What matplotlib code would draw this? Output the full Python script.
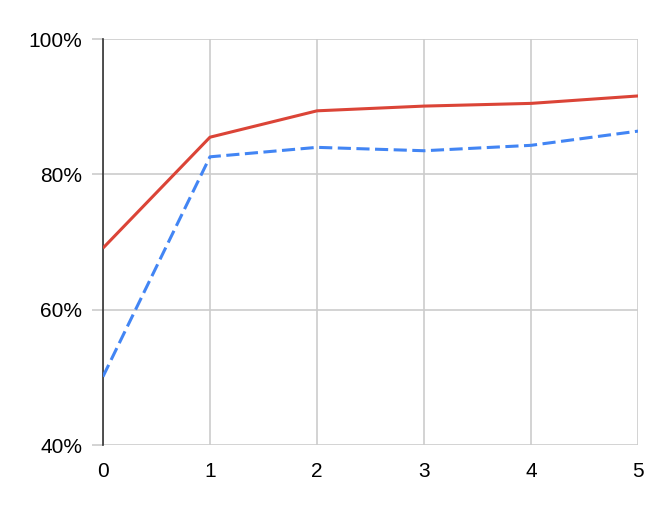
import matplotlib.pyplot as plt
from matplotlib.ticker import FuncFormatter

plt.rcParams['font.family'] = ['Liberation Sans', 'DejaVu Sans']

# data
steps = [0, 1, 2, 3, 4, 5]
red_series = [69.1, 85.5, 89.4, 90.1, 90.5, 91.6]
blue_series = [50.1, 82.6, 84.0, 83.5, 84.3, 86.4]
y_ticks = [40, 60, 80, 100]

fig = plt.figure(figsize=(6.64, 5.08), dpi=100)
ax = fig.add_axes([0.155, 0.124, 0.806, 0.799])

ax.plot(steps, red_series, color='#DB4437', lw=2.2, solid_capstyle='butt', zorder=3)
ax.plot(steps, blue_series, color='#4285F4', lw=2.2, dashes=(4.3, 1.8), zorder=3)

ax.set_xlim(0, 5)
ax.set_ylim(40, 100)
ax.set_xticks(steps)
ax.set_yticks(y_ticks)
ax.yaxis.set_major_formatter(FuncFormatter(lambda v, p: f"{v:.0f}%"))

# grid and frame
ax.grid(True, color='#CCCCCC', lw=1.2, zorder=0)
for side in ['top', 'right', 'bottom']:
    ax.spines[side].set_visible(False)
ax.spines['left'].set_color('#333333')
ax.spines['left'].set_linewidth(1.2)
ax.spines['left'].set_zorder(2)

ax.tick_params(axis='y', length=8, width=1.2, color='#CCCCCC', pad=7, labelsize=15)
ax.tick_params(axis='x', length=0, pad=12, labelsize=15)

fig.savefig('out.png', dpi=100)
